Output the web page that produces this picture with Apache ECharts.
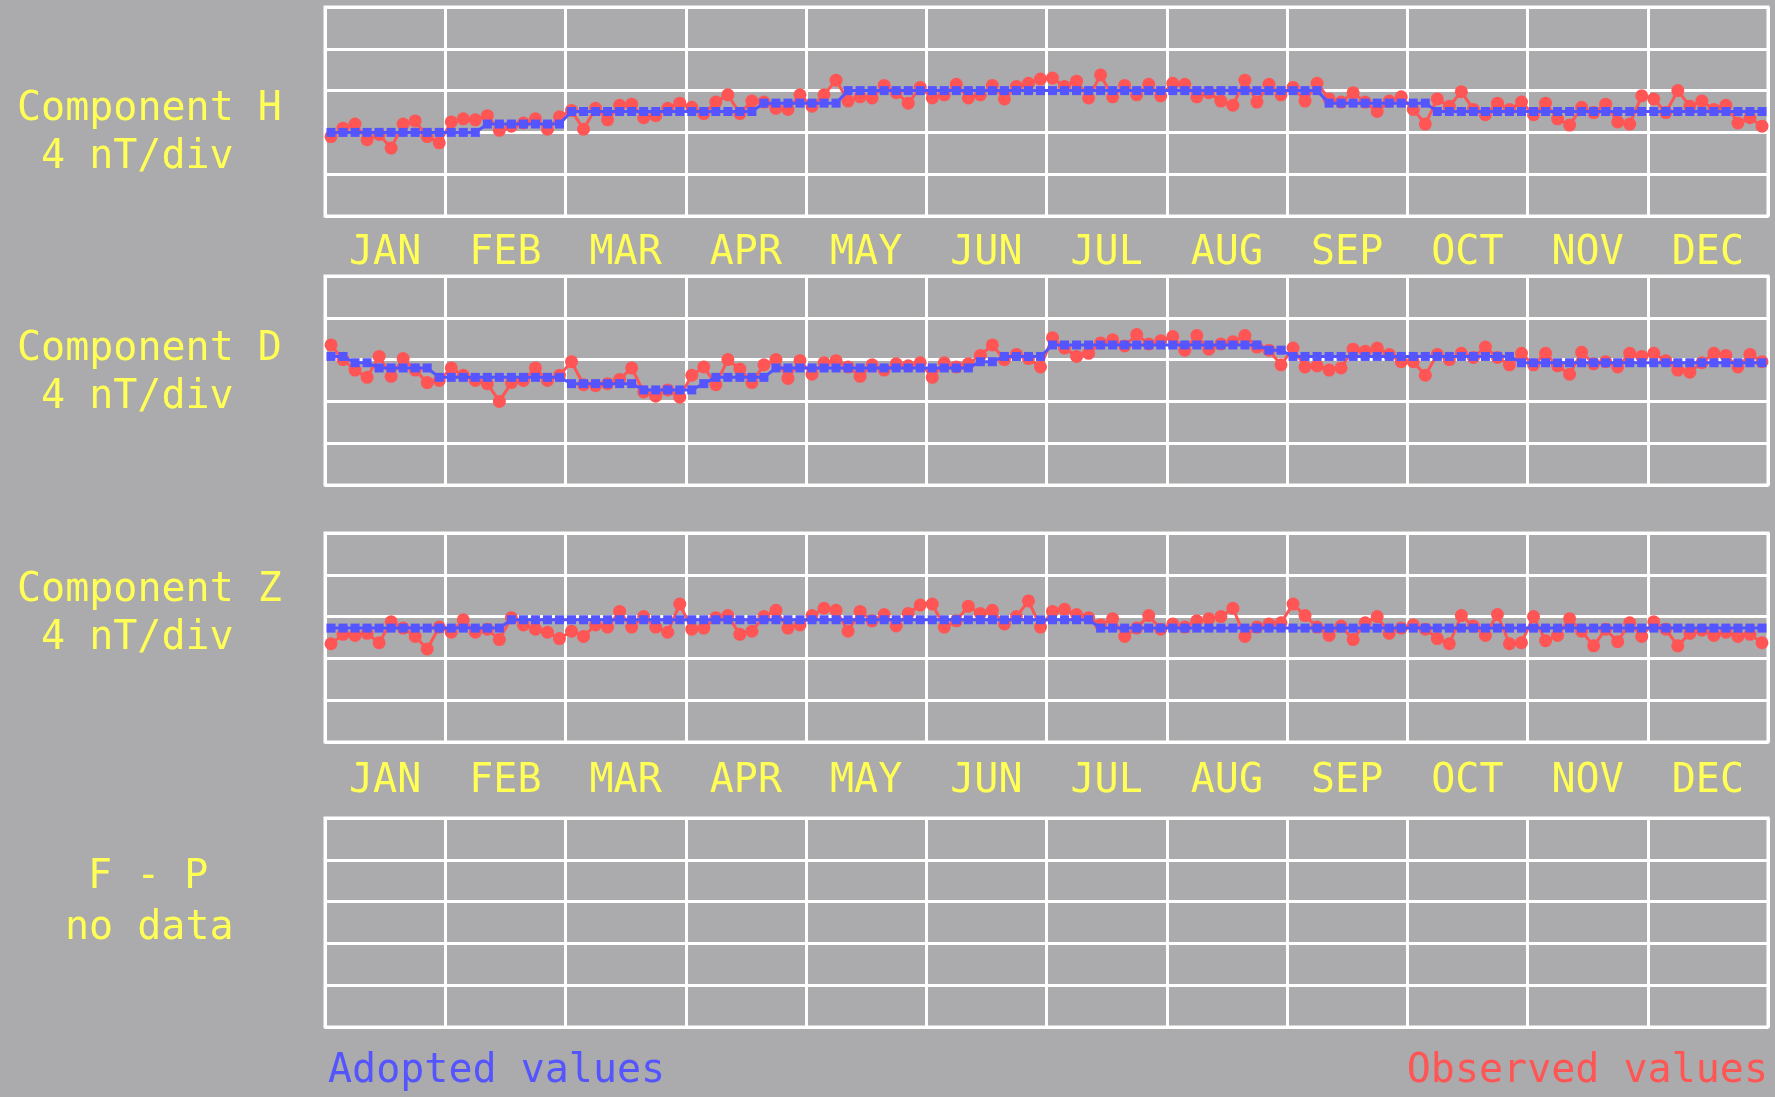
<!DOCTYPE html>
<html>
<head>
<meta charset="utf-8">
<title>Components H, D, Z</title>
<script src="https://cdn.jsdelivr.net/npm/echarts@6/dist/echarts.min.js"></script>
<style>
  html, body { margin: 0; padding: 0; background: #abaaac; }
  #chart { width: 1775px; height: 1097px; }
</style>
</head>
<body>
<div id="chart"></div>
<script>
// Month columns along each time axis
const months = ['JAN', 'FEB', 'MAR', 'APR', 'MAY', 'JUN', 'JUL', 'AUG', 'SEP', 'OCT', 'NOV', 'DEC'];
// Samples per month (values below are listed month by month, ten per month)
const samplesPerMonth = 10;

// Component H, nT above the bottom of its 20 nT window
const hObserved = [
  7.6, 8.4, 8.8, 7.3, 7.8, 6.5, 8.8, 9.1, 7.6, 7.0,
  9.0, 9.3, 9.2, 9.6, 8.2, 8.6, 8.9, 9.3, 8.3, 9.5,
  10.1, 8.3, 10.3, 9.2, 10.6, 10.7, 9.4, 9.6, 10.3, 10.8,
  10.4, 9.8, 10.9, 11.6, 9.8, 11.0, 10.9, 10.3, 10.2, 11.6,
  10.5, 11.6, 13.0, 11.0, 11.4, 11.3, 12.5, 11.8, 10.8, 12.3,
  11.3, 11.6, 12.6, 11.3, 11.6, 12.5, 11.2, 12.4, 12.7, 13.1,
  13.2, 12.4, 12.9, 11.3, 13.5, 11.4, 12.5, 11.6, 12.6, 11.5,
  12.7, 12.6, 11.4, 11.8, 11.0, 10.6, 13.0, 10.9, 12.6, 11.6,
  12.3, 11.0, 12.7, 11.2, 10.9, 11.8, 10.9, 10.0, 11.0, 11.4,
  10.2, 8.8, 11.2, 10.5, 11.9, 10.2, 9.7, 10.8, 10.2, 10.9,
  9.7, 10.8, 9.3, 8.7, 10.4, 9.9, 10.7, 9.0, 8.8, 11.5,
  11.2, 9.9, 12.0, 10.5, 11.0, 10.2, 10.6, 8.9, 9.4, 8.6
];
const hAdopted = [
  8, 8, 8, 8, 8, 8, 8, 8, 8, 8,
  8, 8, 8, 8.8, 8.8, 8.8, 8.8, 8.8, 8.8, 8.8,
  10, 10, 10, 10, 10, 10, 10, 10, 10, 10,
  10, 10, 10, 10, 10, 10, 10.8, 10.8, 10.8, 10.8,
  10.8, 10.8, 10.8, 12, 12, 12, 12, 12, 12, 12,
  12, 12, 12, 12, 12, 12, 12, 12, 12, 12,
  12, 12, 12, 12, 12, 12, 12, 12, 12, 12,
  12, 12, 12, 12, 12, 12, 12, 12, 12, 12,
  12, 12, 12, 10.8, 10.8, 10.8, 10.8, 10.8, 10.8, 10.8,
  10.8, 10.8, 10, 10, 10, 10, 10, 10, 10, 10,
  10, 10, 10, 10, 10, 10, 10, 10, 10, 10,
  10, 10, 10, 10, 10, 10, 10, 10, 10, 10
];

// Component D
const dObserved = [
  13.4, 12.0, 11.0, 10.3, 12.3, 10.4, 12.1, 11.0, 9.8, 10.0,
  11.2, 10.5, 10.0, 9.7, 8.0, 9.8, 10.0, 11.2, 10.0, 10.5,
  11.8, 9.6, 9.5, 9.7, 10.1, 11.2, 8.9, 8.5, 9.1, 8.4,
  10.5, 11.3, 9.6, 12.0, 11.1, 9.8, 11.5, 12.0, 10.2, 11.9,
  10.6, 11.7, 11.9, 11.3, 10.4, 11.5, 11.0, 11.6, 11.4, 11.7,
  10.3, 11.7, 11.3, 11.6, 12.4, 13.4, 12.0, 12.5, 12.1, 11.3,
  14.1, 13.1, 12.3, 12.6, 13.6, 13.9, 13.3, 14.4, 13.5, 13.8,
  14.2, 12.9, 14.3, 13.0, 13.5, 13.7, 14.3, 13.2, 12.9, 11.5,
  13.1, 11.3, 11.4, 11.0, 11.2, 13.0, 12.8, 13.1, 12.5, 11.8,
  11.8, 10.5, 12.5, 12.0, 12.6, 12.2, 13.2, 12.2, 11.5, 12.6,
  11.5, 12.6, 11.4, 10.6, 12.7, 11.6, 11.8, 11.3, 12.6, 12.3,
  12.6, 11.9, 11.0, 10.8, 11.7, 12.6, 12.4, 11.3, 12.5, 11.8
];
const dAdopted = [
  12.3, 12.3, 11.7, 11.7, 11.2, 11.2, 11.2, 11.2, 11.2, 10.3,
  10.3, 10.3, 10.3, 10.3, 10.3, 10.3, 10.3, 10.3, 10.3, 10.3,
  9.7, 9.7, 9.7, 9.7, 9.7, 9.7, 9.1, 9.1, 9.1, 9.1,
  9.1, 9.7, 10.3, 10.3, 10.3, 10.3, 10.3, 11.2, 11.2, 11.2,
  11.2, 11.2, 11.2, 11.2, 11.2, 11.2, 11.2, 11.2, 11.2, 11.2,
  11.2, 11.2, 11.2, 11.2, 11.8, 11.8, 12.3, 12.3, 12.3, 12.3,
  13.4, 13.4, 13.4, 13.4, 13.4, 13.4, 13.4, 13.4, 13.4, 13.4,
  13.4, 13.4, 13.4, 13.4, 13.4, 13.4, 13.4, 13.4, 12.9, 12.9,
  12.3, 12.3, 12.3, 12.3, 12.3, 12.3, 12.3, 12.3, 12.3, 12.3,
  12.3, 12.3, 12.3, 12.3, 12.3, 12.3, 12.3, 12.3, 12.3, 11.7,
  11.7, 11.7, 11.7, 11.7, 11.7, 11.7, 11.7, 11.7, 11.7, 11.7,
  11.7, 11.7, 11.7, 11.7, 11.7, 11.7, 11.7, 11.7, 11.7, 11.7
];

// Component Z
const zObserved = [
  9.4, 10.3, 10.2, 10.4, 9.5, 11.5, 10.9, 10.1, 8.9, 11.0,
  10.5, 11.7, 10.5, 10.8, 9.8, 11.9, 11.2, 10.8, 10.5, 9.9,
  10.6, 10.1, 11.2, 11.0, 12.5, 11.0, 12.0, 11.0, 10.5, 13.2,
  10.8, 10.9, 11.9, 12.1, 10.3, 10.6, 12.0, 12.6, 10.9, 11.2,
  12.1, 12.8, 12.6, 10.6, 12.5, 11.6, 12.2, 11.1, 12.3, 13.1,
  13.2, 11.0, 11.6, 13.0, 12.3, 12.6, 11.3, 12.0, 13.5, 11.0,
  12.5, 12.7, 12.2, 11.9, 11.2, 11.8, 10.1, 10.9, 12.1, 10.8,
  11.3, 11.0, 11.6, 11.8, 12.0, 12.8, 10.1, 11.0, 11.3, 11.4,
  13.2, 12.1, 11.0, 10.2, 11.1, 9.8, 11.4, 12.0, 10.4, 10.9,
  11.2, 10.8, 9.9, 9.4, 12.1, 11.1, 10.2, 12.2, 9.4, 9.5,
  12.0, 9.7, 10.2, 11.8, 10.6, 9.2, 10.8, 9.6, 11.4, 10.1,
  11.5, 10.8, 9.2, 10.4, 10.7, 10.2, 10.5, 10.1, 10.3, 9.5
];
const zAdopted = [
  10.9, 10.9, 10.9, 10.9, 10.9, 10.9, 10.9, 10.9, 10.9, 10.9,
  10.9, 10.9, 10.9, 10.9, 10.9, 11.7, 11.7, 11.7, 11.7, 11.7,
  11.7, 11.7, 11.7, 11.7, 11.7, 11.7, 11.7, 11.7, 11.7, 11.7,
  11.7, 11.7, 11.7, 11.7, 11.7, 11.7, 11.7, 11.7, 11.7, 11.7,
  11.7, 11.7, 11.7, 11.7, 11.7, 11.7, 11.7, 11.7, 11.7, 11.7,
  11.7, 11.7, 11.7, 11.7, 11.7, 11.7, 11.7, 11.7, 11.7, 11.7,
  11.7, 11.7, 11.7, 11.7, 10.9, 10.9, 10.9, 10.9, 10.9, 10.9,
  10.9, 10.9, 10.9, 10.9, 10.9, 10.9, 10.9, 10.9, 10.9, 10.9,
  10.9, 10.9, 10.9, 10.9, 10.9, 10.9, 10.9, 10.9, 10.9, 10.9,
  10.9, 10.9, 10.9, 10.9, 10.9, 10.9, 10.9, 10.9, 10.9, 10.9,
  10.9, 10.9, 10.9, 10.9, 10.9, 10.9, 10.9, 10.9, 10.9, 10.9,
  10.9, 10.9, 10.9, 10.9, 10.9, 10.9, 10.9, 10.9, 10.9, 10.9
];

// Vertical scale of every panel: 4 nT per division, 5 divisions
const nTPerDiv = 4;
const divisions = 5;

const panelTitles = [
  ['Component H', '4 nT/div'],
  ['Component D', '4 nT/div'],
  ['Component Z', '4 nT/div'],
  ['F - P', 'no data']
];

const YELLOW = '#ffff55';
const RED = '#ff5555';
const BLUE = '#5555ff';
const WHITE = '#ffffff';
const FONT = '"DejaVu Sans Mono", "Liberation Mono", monospace';

// Sample index -> position on the month axis (centre of its sample slot)
function toSeries(values) {
  return values.map((v, i) => [(i + 0.5) / samplesPerMonth, v]);
}

const panelTop = [7, 276, 533, 818];
const panelHeight = 209;
const plotLeft = 325;
const plotWidth = 1443;

const grids = panelTop.map(top => ({
  left: plotLeft, top: top, width: plotWidth, height: panelHeight,
  show: true, borderColor: WHITE, borderWidth: 3, backgroundColor: 'transparent'
}));

const valueXAxes = panelTop.map((_, i) => ({
  gridIndex: i, type: 'value', min: 0, max: months.length, interval: 1,
  axisLine: { show: false }, axisTick: { show: false }, axisLabel: { show: false },
  splitLine: { show: true, lineStyle: { color: WHITE, width: 3 } }
}));

const monthAxis = (gridIndex, margin) => ({
  gridIndex, type: 'category', data: months, position: 'bottom',
  axisLine: { show: false }, axisTick: { show: false }, splitLine: { show: false },
  axisLabel: { color: YELLOW, fontFamily: FONT, fontSize: 40, margin: margin, interval: 0 }
});

const yAxes = panelTop.map((_, i) => ({
  gridIndex: i, type: 'value', min: 0, max: nTPerDiv * divisions, interval: nTPerDiv,
  axisLine: { show: false }, axisTick: { show: false }, axisLabel: { show: false },
  splitLine: { show: true, lineStyle: { color: WHITE, width: 3 } }
}));

function observedSeries(idx, values) {
  return {
    name: 'Observed values', type: 'line', xAxisIndex: idx, yAxisIndex: idx,
    data: toSeries(values), symbol: 'circle', symbolSize: 13, showAllSymbol: true,
    itemStyle: { color: RED, borderWidth: 0 },
    lineStyle: { color: RED, width: 3 }, z: 3
  };
}
function adoptedSeries(idx, values) {
  return {
    name: 'Adopted values', type: 'line', xAxisIndex: idx, yAxisIndex: idx,
    data: toSeries(values), symbol: 'rect', symbolSize: [9, 9], showAllSymbol: true,
    itemStyle: { color: BLUE, borderWidth: 0 },
    lineStyle: { color: BLUE, width: 3 }, z: 4
  };
}

const titleText = [];
const titleRows = [[110, 158], [350, 398], [591, 639], [878, 929]];
const titleLeft = [[17, 41], [17, 41], [17, 41], [88, 65]];
panelTitles.forEach((rows, p) => {
  rows.forEach((txt, r) => {
    titleText.push({
      type: 'text', x: titleLeft[p][r], y: titleRows[p][r],
      style: { text: txt, fill: YELLOW, font: '40px ' + FONT, textAlign: 'left', textVerticalAlign: 'middle' }
    });
  });
});

const chart = echarts.init(document.getElementById('chart'), null, { renderer: 'canvas' });
chart.setOption({
  animation: false,
  backgroundColor: '#abaaac',
  grid: grids,
  xAxis: valueXAxes.concat([monthAxis(0, 18), monthAxis(2, 20)]),
  yAxis: yAxes,
  series: [
    observedSeries(0, hObserved), adoptedSeries(0, hAdopted),
    observedSeries(1, dObserved), adoptedSeries(1, dAdopted),
    observedSeries(2, zObserved), adoptedSeries(2, zAdopted)
  ],
  graphic: titleText.concat([
    { type: 'text', x: 328, y: 1072,
      style: { text: 'Adopted values', fill: BLUE, font: '40px ' + FONT, textAlign: 'left', textVerticalAlign: 'middle' } },
    { type: 'text', x: 1768, y: 1072,
      style: { text: 'Observed values', fill: RED, font: '40px ' + FONT, textAlign: 'right', textVerticalAlign: 'middle' } }
  ])
});
</script>
</body>
</html>
